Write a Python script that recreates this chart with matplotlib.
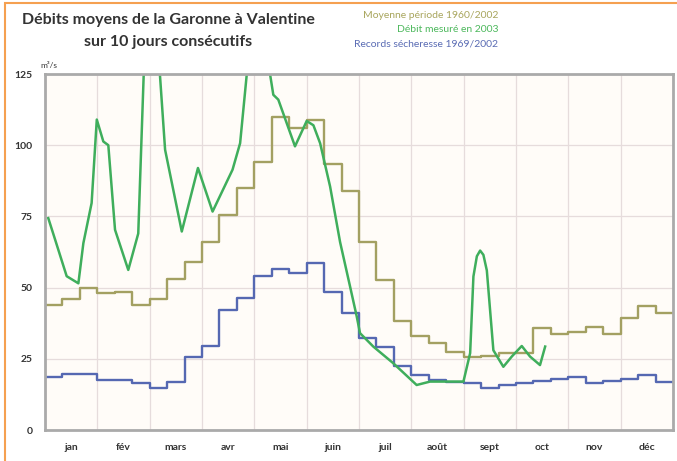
import matplotlib.pyplot as plt
import matplotlib.patches as mpatches
import numpy as np

# months and 10-day periods (36 decades)
mois = ['jan', 'fév', 'mars', 'avr', 'mai', 'juin', 'juil', 'août', 'sept', 'oct', 'nov', 'déc']

# Moyenne période 1960/2002, m3/s per decade
moyenne = [44, 46, 50, 48, 48.5, 44, 46, 53, 59, 66, 75.5, 85,
           94, 110, 106, 109, 93.5, 84, 66, 52.5, 38.4, 33, 30.5, 27.5,
           25.5, 26, 27, 27, 35.8, 33.7, 34.5, 36.3, 33.7, 39.3, 43.6, 41]

# Records sécheresse 1969/2002
records = [18.5, 19.5, 19.5, 17.5, 17.5, 16.5, 14.8, 16.8, 25.8, 29.5, 42, 46.5,
           54, 56.6, 55, 58.6, 48.6, 41, 32.3, 29.3, 22.5, 19.3, 17.6, 17,
           16.5, 14.8, 15.8, 16.5, 17.3, 17.8, 18.7, 16.5, 17.3, 17.8, 19.3, 17]

# Débit mesuré en 2003 (day of year, m3/s)
jours_2003 = [1.9, 5.8, 12.6, 19.4, 22.3, 27.1, 30.1, 33.9, 36.8, 40.7, 48.4, 54.2,
              60.5, 69.8, 79.5, 88.9, 97.4, 109, 113.4, 122.4, 132.7, 135.6, 145.3,
              152.1, 156, 159.9, 165.7, 171.5, 177.3, 181.2, 183.1, 190.8, 202.5,
              216, 223.8, 243.2, 247.1, 249, 251, 252.9, 254.8, 256.8, 260.6, 266.4,
              271.3, 277.1, 281.9, 287.7, 290.7]
debit_2003 = [74.4, 67, 54, 51.5, 65.6, 79.7, 109, 101.3, 100, 70.3, 56.2, 69,
              180, 98.4, 69.7, 92, 76.7, 91.4, 100.7, 157, 117.7, 116, 99.6,
              108.5, 107, 100.7, 85.5, 66, 50.4, 39.8, 34, 29.3, 23.4,
              15.8, 17, 17, 27, 53.9, 61, 63, 61.5, 56, 28, 22.2,
              25.8, 29.5, 25.8, 22.8, 29.3]

c_moy = '#a3a062'
c_2003 = '#3fae5c'
c_rec = '#5568b2'

plt.rcParams['font.family'] = ['Lato', 'DejaVu Sans']

fig = plt.figure(figsize=(6.77, 4.61), dpi=100)
fig.patch.set_facecolor('white')
ax = fig.add_axes([45/677, 1-430/461, 628/677, 356/461])
ax.set_facecolor('#fffcf8')

# orange frame on top and left
fig.patches.append(mpatches.Rectangle((5/677, -0.1), 1.2, 1.1 - 3/461, transform=fig.transFigure,
                                      fill=False, edgecolor='#f5a050', lw=1.5))

edges = np.arange(37) / 3
ax.step(edges, moyenne + moyenne[-1:], where='post', color=c_moy, lw=1.7)
ax.step(edges, records + records[-1:], where='post', color=c_rec, lw=1.7)
x2003 = np.array(jours_2003) * 12 / 365
ax.plot(x2003, debit_2003, color=c_2003, lw=1.8)

ax.set_xlim(0, 12)
ax.set_ylim(0, 125)
ax.set_yticks([0, 25, 50, 75, 100, 125])
ax.set_xticks(np.arange(12) + 0.5)
ax.set_xticklabels(mois)
ax.set_xticks(np.arange(1, 12), minor=True)
ax.tick_params(axis='both', which='both', length=0, labelsize=7.5, labelcolor='#333333')
ax.tick_params(axis='y', pad=9)
ax.tick_params(axis='x', pad=9)
for lab in ax.get_xticklabels() + ax.get_yticklabels():
    lab.set_fontweight('bold')
ax.grid(True, which='minor', axis='x', color='#e6dcdc', lw=0.9)
ax.grid(True, which='major', axis='y', color='#e6dcdc', lw=0.9)
for s in ax.spines.values():
    s.set_color('#aaaaaa')
    s.set_linewidth(2)

fig.text(40/677, 1-66/461, 'm³/s', fontsize=6, color='#333333', va='center', ha='left')

fig.text(168/677, 1-20/461, 'Débits moyens de la Garonne à Valentine', fontsize=11.5,
         fontweight='bold', color='#333333', ha='center', va='center')
fig.text(168/677, 1-42/461, 'sur 10 jours consécutifs', fontsize=11.5,
         fontweight='bold', color='#333333', ha='center', va='center')

fig.text(498/677, 1-15/461, 'Moyenne période 1960/2002', fontsize=7.5, color='#a8a55c', ha='right', va='center')
fig.text(498/677, 1-30/461, 'Débit mesuré en 2003', fontsize=7.5, color='#4cb85c', ha='right', va='center')
fig.text(498/677, 1-44/461, 'Records sécheresse 1969/2002', fontsize=7.5, color='#5a6cb4', ha='right', va='center')

fig.savefig('out.png', dpi=100)
